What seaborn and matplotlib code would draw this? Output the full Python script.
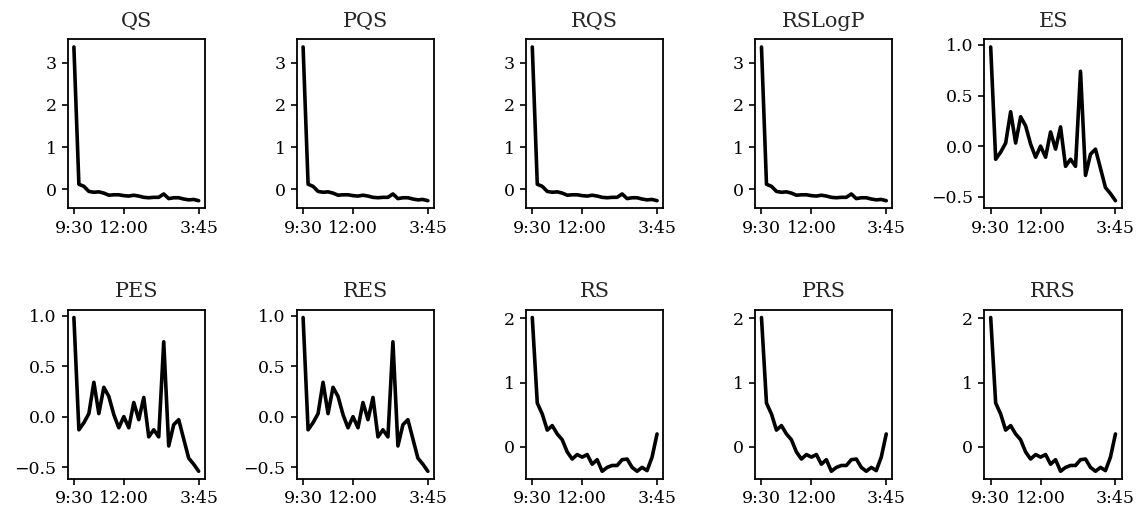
import numpy as np
import pandas as pd
import matplotlib
matplotlib.use("Agg")
import matplotlib.pyplot as plt
from matplotlib.ticker import MultipleLocator
import seaborn as sns

# 15-minute bins from 9:30 to 3:45 (26 bins)
time_index = list(range(26))
tick_positions = [0, 10, 25]
tick_labels = ["9:30", "12:00", "3:45"]

qs_values = [3.37, 0.12, 0.07, -0.05, -0.07, -0.06, -0.09, -0.14, -0.13, -0.13,
             -0.15, -0.16, -0.14, -0.16, -0.19, -0.20, -0.19, -0.19, -0.11, -0.22,
             -0.20, -0.20, -0.23, -0.25, -0.24, -0.27]
es_values = [0.98, -0.13, -0.06, 0.03, 0.34, 0.03, 0.29, 0.20, 0.02, -0.11,
             0.00, -0.11, 0.14, -0.03, 0.19, -0.20, -0.13, -0.20, 0.74, -0.29,
             -0.08, -0.03, -0.22, -0.41, -0.47, -0.54]
rs_values = [2.01, 0.68, 0.51, 0.26, 0.33, 0.20, 0.11, -0.08, -0.19, -0.12,
             -0.16, -0.12, -0.27, -0.20, -0.38, -0.32, -0.29, -0.29, -0.20, -0.19,
             -0.32, -0.38, -0.32, -0.37, -0.16, 0.20]

panel_titles = ["QS", "PQS", "RQS", "RSLogP", "ES", "PES", "RES", "RS", "PRS", "RRS"]
panel_series = [qs_values, qs_values, qs_values, qs_values, es_values,
                es_values, es_values, rs_values, rs_values, rs_values]
panel_ytick_step = [1, 1, 1, 1, 0.5, 0.5, 0.5, 1, 1, 1]

sns.set_theme(style="ticks")
plt.rcParams["font.family"] = ["DejaVu Serif"]
plt.rcParams["axes.edgecolor"] = "black"
plt.rcParams["xtick.color"] = "black"
plt.rcParams["ytick.color"] = "black"

fig, axes = plt.subplots(2, 5, figsize=(11.39, 5.15), dpi=100)
for ax, title, vals, step in zip(axes.flat, panel_titles, panel_series, panel_ytick_step):
    df = pd.DataFrame({"t": time_index, "v": vals})
    sns.lineplot(data=df, x="t", y="v", ax=ax, color="black", linewidth=2.6)
    ax.set_title(title, fontsize=15, pad=9)
    ax.set_xticks(tick_positions)
    ax.set_xticklabels(tick_labels)
    ax.yaxis.set_major_locator(MultipleLocator(step))
    ax.set_xlabel("")
    ax.set_ylabel("")
    ax.tick_params(labelsize=12.5, length=4.5, width=1.2, colors="black")
    for s in ax.spines.values():
        s.set_visible(True)
        s.set_color("black")
        s.set_linewidth(1.3)

fig.subplots_adjust(left=0.0594, right=0.9848, top=0.9237, bottom=0.070,
                    wspace=0.67, hspace=0.60)
fig.savefig("out.png", dpi=100)
